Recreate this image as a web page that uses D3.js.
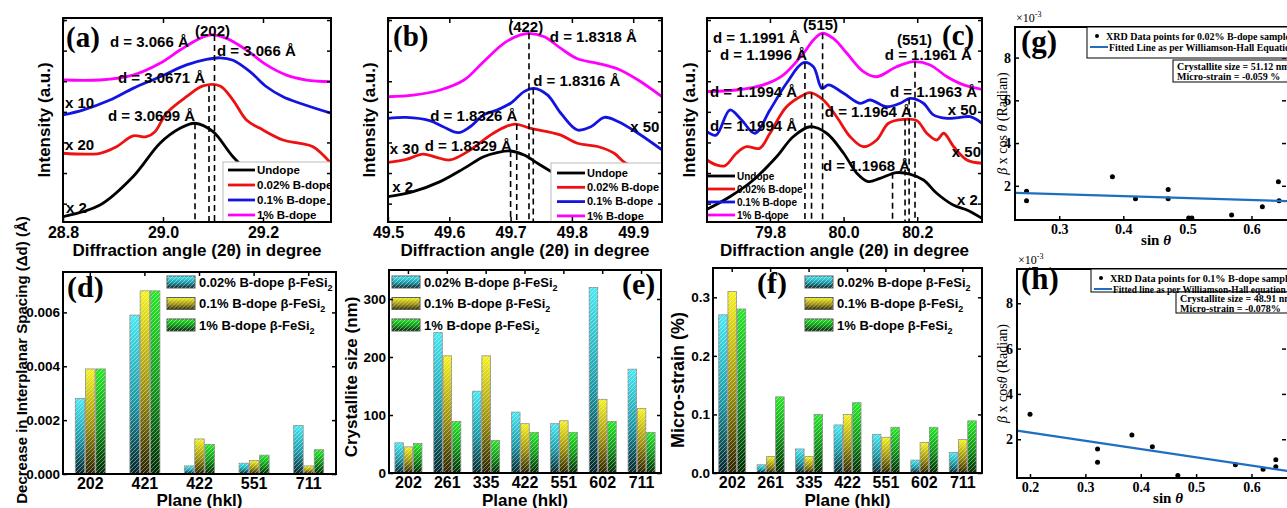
<!DOCTYPE html>
<html lang="en">
<head>
<meta charset="utf-8">
<script src="https://d3js.org/d3.v7.min.js"></script>
<style type="text/css">
  body { margin: 0; background: #fff; }
  svg { display: block; font-family: "Liberation Sans", Arial, sans-serif; font-weight: bold; }
  .serif { font-family: "Liberation Serif", "Times New Roman", serif; }
</style>
</head>
<body>
<script type="text/javascript">

  // ---------- XRD peaks, [2theta, intensity in a.u.] ----------
  var seriesNames = ["Undope", "0.02% B-dope", "0.1% B-dope", "1% B-dope"];
  var seriesColors = ["#000000", "#ee1111", "#1414e0", "#ff00ff"];

  // (a) (202) peak
  var aUndope = [[28.8,2.6],[28.874,8.3],[28.94,22.2],[28.994,38.6],[29.034,45.9],[29.064,48.4],[29.1,44.3],[29.14,32],[29.2,18],[29.26,9],[29.34,4]];
  var aB002 = [[28.8,33.7],[28.874,33.7],[28.907,36.9],[28.94,42.2],[28.967,41.8],[28.984,44.3],[29.007,53.3],[29.047,61.4],[29.08,66.7],[29.114,66.7],[29.14,59.8],[29.167,50],[29.2,45.1],[29.24,40.2],[29.274,38.5],[29.3,36.9],[29.336,28.8]];
  var aB01 = [[28.8,52.5],[28.841,55],[28.894,59.8],[28.94,65.5],[28.994,71.2],[29.047,77],[29.087,79.7],[29.114,80.5],[29.14,79.3],[29.174,73.7],[29.207,66.3],[29.24,61.4],[29.274,58.2],[29.336,53.3]];
  var aB1 = [[28.8,69.6],[28.874,69.6],[28.94,72],[28.994,77.8],[29.034,84.3],[29.074,90],[29.097,91.7],[29.127,90],[29.167,84.3],[29.207,77],[29.247,72],[29.287,69.6],[29.336,68.8]];
  var aTicks = [28.8, 29.0, 29.2];
  var aPeakX = [29.064, 29.092, 29.103];
  var aPeakTop = [48.4, 66.7, 91.7];
  var aNotes = [[28.894,85.8,"d = 3.066 Å"],[29.064,91.2,"(202)"],[29.108,81.4,"d = 3.066 Å"],
                [28.91,68.1,"d = 3.0671 Å"],[28.89,49.5,"d = 3.0699 Å"],[28.804,55.9,"x 10"],
                [28.804,35.3,"x 20"],[28.806,4.4,"x 2"]];

  // (b) (422) peak
  var bUndope = [[49.5,12.4],[49.541,14.9],[49.585,19.8],[49.624,26.3],[49.656,32],[49.678,34],[49.7,34.8],[49.722,32.8],[49.744,28.8],[49.766,24.8],[49.798,20],[49.85,15],[49.947,10]];
  var bB002 = [[49.5,29.2],[49.53,30.7],[49.557,33.3],[49.579,31.7],[49.601,30.4],[49.634,35.3],[49.667,42.6],[49.694,47],[49.708,48],[49.733,45.9],[49.755,44.6],[49.782,42.6],[49.809,38.6],[49.842,37],[49.869,33.7],[49.888,28.8],[49.947,24]];
  var bB01 = [[49.5,50.8],[49.53,51.3],[49.568,49.7],[49.59,46.7],[49.615,43.8],[49.634,46.7],[49.656,52.5],[49.678,54.9],[49.7,58.2],[49.722,63.9],[49.738,65.5],[49.76,62.3],[49.782,53.3],[49.809,45.1],[49.831,46.7],[49.853,51.3],[49.875,49.3],[49.908,43.5],[49.947,35.3]];
  var bB1 = [[49.5,61.4],[49.541,62.2],[49.585,64.7],[49.624,69.6],[49.656,78.6],[49.689,87.6],[49.716,91.7],[49.73,92.5],[49.755,90.8],[49.782,85.1],[49.809,80],[49.842,77.8],[49.875,75],[49.908,69.6],[49.947,61.4]];
  var bTicks = [49.5, 49.6, 49.7, 49.8, 49.9];
  var bPeakX = [49.7, 49.71, 49.73, 49.737];
  var bPeakTop = [34.8, 48, 92.5, 65.5];
  var bNotes = [[49.696,93.1,"(422)"],[49.764,88.2,"d = 1.8318 Å"],[49.737,66.7,"d = 1.8316 Å"],
                [49.569,49.5,"d = 1.8326 Å"],[49.895,44.1,"x 50"],[49.503,33.3,"x 30"],
                [49.56,34.8,"d = 1.8329 Å"],[49.507,14.7,"x 2"]];

  // (c) (515) and (551) peaks
  var cUndope = [[79.629,6.2],[79.691,12.4],[79.755,20.6],[79.818,32],[79.863,41.8],[79.909,46.7],[79.954,43.5],[80.0,33.7],[80.036,23.9],[80.067,19.8],[80.099,21.4],[80.144,24.2],[80.18,23.5],[80.217,20.6],[80.253,14.1],[80.298,8.3],[80.335,5.9],[80.376,1.8]];
  var cB002 = [[79.629,30.4],[79.654,28],[79.677,27.5],[79.709,33.7],[79.736,36.9],[79.772,36.1],[79.8,43.5],[79.845,56.5],[79.891,62.3],[79.909,63.4],[79.945,59.8],[79.981,51.6],[80.018,41.8],[80.054,36.9],[80.09,40.2],[80.122,48.4],[80.163,50.3],[80.199,49.7],[80.226,43.5],[80.253,40.2],[80.272,43.5],[80.299,36.9],[80.335,30.4],[80.376,28.8]];
  var cB01 = [[79.629,44.3],[79.654,42.6],[79.691,54.9],[79.723,50],[79.759,43.5],[79.8,54.9],[79.845,68],[79.891,78.1],[79.918,76.1],[79.941,65.5],[79.959,67.2],[80.0,63.1],[80.045,58.2],[80.072,59.8],[80.117,56.5],[80.154,58.2],[80.181,60.6],[80.217,58.2],[80.244,52.5],[80.281,50.8],[80.317,51.3],[80.344,51.6],[80.376,48.4]];
  var cB1 = [[79.629,63.9],[79.709,64.7],[79.782,67.2],[79.836,72],[79.891,82.7],[79.918,89.2],[79.941,92.5],[79.972,90],[80.009,82.7],[80.054,73.7],[80.09,71.2],[80.144,76.1],[80.19,78.6],[80.235,77],[80.281,71.2],[80.326,67.2],[80.376,65]];
  var cTicks = [79.8, 80.0, 80.2];
  var cPeakX = [79.895, 79.913, 79.943, 80.133, 80.167, 80.178, 80.194];
  var cPeakTop = [78, 63.4, 92.5, 24.2, 50.3, 60.6, 78.6];
  var cNotes = [[79.89,94.1,"(515)"],[80.145,86.8,"(551)"],[79.645,87.7,"d = 1.1991 Å"],
                [79.664,79.4,"d = 1.1996 Å"],[80.112,79.4,"d = 1.1961 Å"],[79.637,61.3,"d = 1.1994 Å"],
                [80.126,61.3,"d = 1.1963 Å"],[80.283,52.5,"x 50"],[79.949,51.5,"d = 1.1964 Å"],
                [79.637,44.6,"d = 1.1994 Å"],[80.294,31.9,"x 50"],[79.944,25,"d = 1.1968 Å"],
                [80.308,8.3,"x 2"]];

  var intensityTicks = [9, 24, 39, 54, 69, 84, 99];

  // ---------- bar charts ----------
  var barNames = ["0.02% B-dope β-FeSi", "0.1% B-dope β-FeSi", "1% B-dope β-FeSi"];

  var dPlanes = ["202", "421", "422", "551", "711"];
  var dB002 = [0.0028, 0.0059, 0.0003, 0.0004, 0.0018];
  var dB01 = [0.0039, 0.0068, 0.0013, 0.0005, 0.0003];
  var dB1 = [0.0039, 0.0068, 0.0011, 0.0007, 0.0009];
  var dTicks = [0, 0.002, 0.004, 0.006];

  var ePlanes = ["202", "261", "335", "422", "551", "602", "711"];
  var eB002 = [52, 242, 141, 105, 85, 320, 179];
  var eB01 = [45, 202, 202, 85, 90, 127, 111];
  var eB1 = [51, 89, 56, 70, 70, 89, 70];
  var eTicks = [0, 100, 200, 300];

  var fPlanes = ["202", "261", "335", "422", "551", "602", "711"];
  var fB002 = [0.27, 0.014, 0.041, 0.082, 0.066, 0.022, 0.035];
  var fB01 = [0.31, 0.028, 0.028, 0.10, 0.061, 0.052, 0.057];
  var fB1 = [0.28, 0.13, 0.10, 0.12, 0.078, 0.078, 0.089];
  var fTicks = [0, 0.1, 0.2, 0.3];

  // ---------- Williamson-Hall plots ----------
  var gSin = [0.249, 0.249, 0.383, 0.419, 0.47, 0.47, 0.502, 0.507, 0.569, 0.617, 0.642, 0.643];
  var gBeta = [1.75, 1.3, 2.42, 1.39, 1.83, 1.39, 0.49, 0.49, 0.63, 1.02, 2.19, 1.3];
  var gFitSin = [0.231, 0.657];
  var gFitBeta = [1.67, 1.28];
  var gXTicks = [0.3, 0.4, 0.5, 0.6];

  var hSin = [0.2, 0.322, 0.322, 0.384, 0.421, 0.467, 0.571, 0.621, 0.644, 0.644];
  var hBeta = [3.1, 1.57, 0.98, 2.19, 1.67, 0.4, 0.87, 0.68, 1.09, 0.79];
  var hFitSin = [0.1765, 0.666];
  var hFitBeta = [2.38, 0.6];
  var hXTicks = [0.2, 0.3, 0.4, 0.5, 0.6];
  var whYTicks = [2, 4, 6, 8];

  // ---------------------------------------------------------
  var width = 1287;
  var height = 508;

  var svg = d3.select("body").append("svg")
    .attr("width", width)
    .attr("height", height);

  var defs = svg.append("defs");

  function box(g, l, t, r, b) {
    g.append("rect")
      .attr("x", l).attr("y", t)
      .attr("width", r - l).attr("height", b - t)
      .attr("fill", "none")
      .attr("stroke", "#000")
      .attr("stroke-width", 2);
  }

  function styleAxis(ax, size, family) {
    ax.select(".domain").remove();
    ax.selectAll("line").attr("stroke", "#000").attr("stroke-width", 1.5);
    ax.selectAll("text")
      .attr("fill", "#000")
      .style("font-size", size + "px")
      .style("font-weight", "bold")
      .style("font-family", family || "'Liberation Sans', Arial, sans-serif");
  }

  // ---------- XRD panels ----------
  function linePanel(p) {
    var x = d3.scaleLinear().domain(p.xDomain).range([p.left, p.right]);
    var y = d3.scaleLinear().domain([0, 100]).range([p.bottom, p.top]);
    var g = svg.append("g");

    defs.append("clipPath").attr("id", "clip-" + p.name)
      .append("rect")
      .attr("x", p.left).attr("y", p.top)
      .attr("width", p.right - p.left).attr("height", p.bottom - p.top);

    var inner = g.append("g").attr("clip-path", "url(#clip-" + p.name + ")");

    var line = d3.line()
      .x(function(d) { return x(d[0]); })
      .y(function(d) { return y(d[1]); })
      .curve(d3.curveCatmullRom.alpha(0.5));

    p.series.forEach(function(s, i) {
      inner.append("path")
        .datum(s)
        .attr("d", line)
        .attr("fill", "none")
        .attr("stroke", seriesColors[i])
        .attr("stroke-width", 2.8);
    });

    // legend
    var L = p.legend;
    if (L.boxed) {
      inner.append("rect")
        .attr("x", L.x).attr("y", L.y)
        .attr("width", L.w).attr("height", L.h)
        .attr("fill", "#fff")
        .attr("stroke", "#bbb")
        .attr("stroke-width", 1);
    }
    var leg = inner.selectAll("g.leg")
      .data(seriesNames)
      .enter()
      .append("g")
      .attr("transform", function(d, i) { return "translate(" + L.lx + "," + (L.ly + i * L.step) + ")"; });
    leg.append("line")
      .attr("x1", 0).attr("x2", L.len)
      .attr("stroke", function(d, i) { return seriesColors[i]; })
      .attr("stroke-width", 2.8);
    leg.append("text")
      .attr("x", L.len + 2)
      .attr("dy", "0.35em")
      .style("font-size", L.font + "px")
      .text(function(d) { return d; });

    // dashed peak positions
    inner.selectAll("line.peak")
      .data(p.peakX)
      .enter()
      .append("line")
      .attr("x1", function(d) { return x(d); })
      .attr("x2", function(d) { return x(d); })
      .attr("y1", function(d, i) { return y(p.peakTop[i]); })
      .attr("y2", p.bottom)
      .attr("stroke", "#000")
      .attr("stroke-width", 1.6)
      .attr("stroke-dasharray", "6,4");

    // annotations
    g.selectAll("text.note")
      .data(p.notes)
      .enter()
      .append("text")
      .attr("x", function(d) { return x(d[0]); })
      .attr("y", function(d) { return y(d[1]); })
      .style("font-size", "15px")
      .text(function(d) { return d[2]; });

    g.append("text")
      .attr("class", "serif")
      .attr("x", p.tagX).attr("y", p.tagY)
      .style("font-size", "29px")
      .text(p.tag);

    // axes
    var ax = g.append("g")
      .attr("transform", "translate(0," + p.bottom + ")")
      .call(d3.axisBottom(x).tickValues(p.ticks).tickFormat(d3.format(".1f")).tickSize(-5).tickPadding(5));
    styleAxis(ax, 16);
    var axTop = g.append("g")
      .attr("transform", "translate(0," + p.top + ")")
      .call(d3.axisTop(x).tickValues(p.ticks).tickFormat("").tickSize(-5));
    styleAxis(axTop, 16);
    var axL = g.append("g")
      .attr("transform", "translate(" + p.left + ",0)")
      .call(d3.axisLeft(y).tickValues(intensityTicks).tickFormat("").tickSize(-4));
    styleAxis(axL, 12);
    var axR = g.append("g")
      .attr("transform", "translate(" + p.right + ",0)")
      .call(d3.axisRight(y).tickValues(intensityTicks).tickFormat("").tickSize(-4));
    styleAxis(axR, 12);

    box(g, p.left, p.top, p.right, p.bottom);

    g.append("text")
      .attr("transform", "translate(" + p.ylabX + "," + ((p.top + p.bottom) / 2) + ") rotate(-90)")
      .attr("text-anchor", "middle")
      .style("font-size", "17px")
      .text("Intensity (a.u.)");

    g.append("text")
      .attr("x", (p.left + p.right) / 2)
      .attr("y", 256)
      .attr("text-anchor", "middle")
      .style("font-size", "17px")
      .text("Diffraction angle (2θ) in degree");
  }

  linePanel({
    name: "a", left: 63, right: 331, top: 18, bottom: 222,
    xDomain: [28.8, 29.336], series: [aUndope, aB002, aB01, aB1],
    ticks: aTicks, peakX: aPeakX, peakTop: aPeakTop, notes: aNotes,
    tag: "(a)", tagX: 66, tagY: 47, ylabX: 50,
    legend: { boxed: true, x: 223, y: 162, w: 130, h: 62, lx: 228, ly: 170, step: 15, len: 27, font: 11.5 }
  });
  linePanel({
    name: "b", left: 388, right: 662, top: 18, bottom: 222,
    xDomain: [49.5, 49.947], series: [bUndope, bB002, bB01, bB1],
    ticks: bTicks, peakX: bPeakX, peakTop: bPeakTop, notes: bNotes,
    tag: "(b)", tagX: 393, tagY: 46, ylabX: 375,
    legend: { boxed: true, x: 551, y: 163, w: 115, h: 62, lx: 557, ly: 173, step: 14.3, len: 28, font: 11 }
  });
  linePanel({
    name: "c", left: 707, right: 982, top: 18, bottom: 222,
    xDomain: [79.629, 80.376], series: [cUndope, cB002, cB01, cB1],
    ticks: cTicks, peakX: cPeakX, peakTop: cPeakTop, notes: cNotes,
    tag: "(c)", tagX: 942, tagY: 45, ylabX: 695,
    legend: { boxed: false, lx: 708, ly: 176, step: 13, len: 27, font: 10 }
  });

  // ---------- bar gradients + hatch ----------
  var barStops = [
    ["#46eaf4", "#1d98a6", "#05262b"],
    ["#f6f21c", "#9c9010", "#2a2300"],
    ["#26ea26", "#12921a", "#012a04"]
  ];
  barStops.forEach(function(st, i) {
    var lg = defs.append("linearGradient")
      .attr("id", "bar" + i)
      .attr("x1", 0).attr("y1", 0).attr("x2", 0).attr("y2", 1);
    lg.append("stop").attr("offset", "0%").attr("stop-color", st[0]);
    lg.append("stop").attr("offset", "55%").attr("stop-color", st[1]);
    lg.append("stop").attr("offset", "100%").attr("stop-color", st[2]);
  });
  var hatch = defs.append("pattern")
    .attr("id", "hatch")
    .attr("patternUnits", "userSpaceOnUse")
    .attr("width", 4).attr("height", 4);
  hatch.append("path")
    .attr("d", "M-1,1 l2,-2 M0,4 l4,-4 M3,5 l2,-2")
    .attr("stroke", "rgba(255,255,255,0.42)")
    .attr("stroke-width", 1);

  function barPanel(p) {
    var x = d3.scaleBand().domain(p.planes).range([p.left, p.right]).padding(0);
    var y = d3.scaleLinear().domain(p.yDomain).range([p.bottom, p.top]);
    var sub = d3.scaleBand().domain([0, 1, 2]).range([-p.group / 2, p.group / 2]).paddingInner(0.08);
    var g = svg.append("g");

    p.series.forEach(function(vals, si) {
      var bars = g.selectAll("g.s" + si)
        .data(vals)
        .enter()
        .append("g");
      [("url(#bar" + si + ")"), "url(#hatch)"].forEach(function(fill, k) {
        bars.append("rect")
          .attr("x", function(d, i) { return x(p.planes[i]) + x.bandwidth() / 2 + sub(si); })
          .attr("y", function(d) { return y(d); })
          .attr("width", sub.bandwidth())
          .attr("height", function(d) { return y(0) - y(d); })
          .attr("fill", fill)
          .attr("stroke", k === 0 ? "#8a8a8a" : "none")
          .attr("stroke-width", 0.8);
      });
    });

    // legend
    var leg = g.selectAll("g.leg")
      .data(barNames)
      .enter()
      .append("g")
      .attr("transform", function(d, i) { return "translate(" + p.legX + "," + (p.legY + i * 21.5) + ")"; });
    ["bar", "hatch"].forEach(function(kind) {
      leg.append("rect")
        .attr("x", 0).attr("y", -6)
        .attr("width", 28).attr("height", 12)
        .attr("fill", function(d, i) { return kind === "bar" ? "url(#bar" + i + ")" : "url(#hatch)"; })
        .attr("stroke", kind === "bar" ? "#555" : "none")
        .attr("stroke-width", 1);
    });
    var lt = leg.append("text")
      .attr("x", 32)
      .attr("dy", "0.35em")
      .style("font-size", "13px");
    lt.append("tspan").text(function(d) { return d; });
    lt.append("tspan").attr("dy", 4).style("font-size", "9px").text("2");

    g.append("text")
      .attr("class", "serif")
      .attr("x", p.tagX).attr("y", p.tagY)
      .style("font-size", "30px")
      .text(p.tag);

    var ax = g.append("g")
      .attr("transform", "translate(0," + p.bottom + ")")
      .call(d3.axisBottom(x).tickSize(0).tickPadding(4));
    styleAxis(ax, 16);
    var axTop = g.append("g")
      .attr("transform", "translate(0," + p.top + ")")
      .call(d3.axisTop(x).tickFormat("").tickSize(-4));
    styleAxis(axTop, 16);
    var axL = g.append("g")
      .attr("transform", "translate(" + p.left + ",0)")
      .call(d3.axisLeft(y).tickValues(p.ticks).tickFormat(d3.format(p.fmt)).tickSize(-4).tickPadding(2));
    styleAxis(axL, 13.5);
    axL.selectAll("text").attr("x", -3);
    var axR = g.append("g")
      .attr("transform", "translate(" + p.right + ",0)")
      .call(d3.axisRight(y).tickValues(p.ticks).tickFormat("").tickSize(-4));
    styleAxis(axR, 13);

    box(g, p.left, p.top, p.right, p.bottom);

    g.append("text")
      .attr("transform", "translate(" + p.ylabX + "," + p.ylabY + ") rotate(-90)")
      .attr("text-anchor", "middle")
      .style("font-size", p.ylabSize + "px")
      .text(p.ylab);

    g.append("text")
      .attr("x", (p.left + p.right) / 2)
      .attr("y", 506)
      .attr("text-anchor", "middle")
      .style("font-size", "17px")
      .text("Plane (hkl)");
  }

  barPanel({
    planes: dPlanes, series: [dB002, dB01, dB1], yDomain: [0, 0.0075], ticks: dTicks, fmt: ".3f",
    left: 63, right: 336, top: 272, bottom: 474, group: 30,
    legX: 167, legY: 282, tag: "(d)", tagX: 67, tagY: 297,
    ylab: "Decrease in Interplanar Spacing (Δd) (Å)", ylabX: 27, ylabY: 360, ylabSize: 15
  });
  barPanel({
    planes: ePlanes, series: [eB002, eB01, eB1], yDomain: [0, 350], ticks: eTicks, fmt: "d",
    left: 389, right: 661, top: 270, bottom: 473, group: 27,
    legX: 392, legY: 282, tag: "(e)", tagX: 622, tagY: 294,
    ylab: "Crystallite size (nm)", ylabX: 357, ylabY: 377, ylabSize: 17
  });
  barPanel({
    planes: fPlanes, series: [fB002, fB01, fB1], yDomain: [0, 0.35], ticks: fTicks, fmt: ".1f",
    left: 713, right: 982, top: 268, bottom: 473, group: 27,
    legX: 805, legY: 282, tag: "(f)", tagX: 757, tagY: 293,
    ylab: "Micro-strain (%)", ylabX: 684, ylabY: 380, ylabSize: 18
  });

  // ---------- Williamson-Hall panels ----------
  function whPanel(p) {
    var x = d3.scaleLinear().domain(p.xDomain).range([p.left, p.right]);
    var y = d3.scaleLinear().domain(p.yDomain).range([p.bottom, p.top]);
    var g = svg.append("g").attr("class", "serif");

    g.selectAll("circle")
      .data(p.sin)
      .enter()
      .append("circle")
      .attr("cx", function(d) { return x(d); })
      .attr("cy", function(d, i) { return y(p.beta[i]); })
      .attr("r", 2.5)
      .attr("fill", "#000");

    g.append("path")
      .datum(p.fitSin)
      .attr("d", d3.line()
        .x(function(d) { return x(d); })
        .y(function(d, i) { return y(p.fitBeta[i]); }))
      .attr("stroke", "#1f6fc0")
      .attr("stroke-width", 2.2)
      .attr("fill", "none");

    var ax = g.append("g")
      .attr("transform", "translate(0," + p.bottom + ")")
      .call(d3.axisBottom(x).tickValues(p.xTicks).tickFormat(d3.format(".1f")).tickSize(-4).tickPadding(4));
    styleAxis(ax, 14, "'Liberation Serif', serif");
    var axL = g.append("g")
      .attr("transform", "translate(" + p.left + ",0)")
      .call(d3.axisLeft(y).tickValues(whYTicks).tickFormat(d3.format("d")).tickSize(-4).tickPadding(2));
    styleAxis(axL, 14, "'Liberation Serif', serif");
    axL.selectAll("text").attr("x", -4);
    var axR = g.append("g")
      .attr("transform", "translate(" + (p.right - 2) + ",0)")
      .call(d3.axisRight(y).tickValues(whYTicks).tickFormat("").tickSize(-4));
    styleAxis(axR, 13);

    box(g, p.left, p.top, p.right, p.bottom);

    // legend boxes
    g.append("rect")
      .attr("x", p.leg1[0]).attr("y", p.leg1[1])
      .attr("width", p.right - p.leg1[0]).attr("height", p.leg1[2])
      .attr("fill", "#fff").attr("stroke", "#000").attr("stroke-width", 1);
    g.append("rect")
      .attr("x", p.leg2[0]).attr("y", p.leg2[1])
      .attr("width", p.right - p.leg2[0]).attr("height", p.leg2[2])
      .attr("fill", "#fff").attr("stroke", "#000").attr("stroke-width", 1);

    g.append("circle")
      .attr("cx", p.leg1[0] + 10).attr("cy", p.leg1[1] + 9)
      .attr("r", 2).attr("fill", "#000");
    g.append("text")
      .attr("x", p.leg1[0] + 19).attr("y", p.leg1[1] + 12.5)
      .style("font-size", p.legFont[0] + "px")
      .text(p.legText[0]);
    g.append("line")
      .attr("x1", p.leg1[0] + 3).attr("x2", p.leg1[0] + 21)
      .attr("y1", p.leg1[1] + 20).attr("y2", p.leg1[1] + 20)
      .attr("stroke", "#1f6fc0").attr("stroke-width", 2);
    g.append("text")
      .attr("x", p.leg1[0] + 22).attr("y", p.leg1[1] + 23.5)
      .style("font-size", p.legFont[1] + "px")
      .text(p.legText[1]);
    g.append("text")
      .attr("x", p.leg2[0] + 4).attr("y", p.leg2[1] + 10)
      .style("font-size", "10px")
      .text(p.legText[2]);
    g.append("text")
      .attr("x", p.leg2[0] + 4).attr("y", p.leg2[1] + 20)
      .style("font-size", "10px")
      .text(p.legText[3]);

    g.append("text")
      .attr("x", p.tagX).attr("y", p.tagY)
      .style("font-size", "31px")
      .text(p.tag);

    var ex = g.append("text")
      .attr("x", p.left + 1).attr("y", p.top - 5)
      .style("font-size", "12px")
      .style("font-weight", "normal");
    ex.append("tspan").text("×10");
    ex.append("tspan").attr("dy", -5).style("font-size", "8px").text("-3");

    var xl = g.append("text")
      .attr("x", p.sinX).attr("y", p.sinY)
      .attr("text-anchor", "middle")
      .style("font-size", "15px");
    xl.append("tspan").text("sin ");
    xl.append("tspan").style("font-style", "italic").text("θ");

    var yl = g.append("text")
      .attr("transform", "translate(1007," + ((p.top + p.bottom) / 2) + ") rotate(-90)")
      .attr("text-anchor", "middle")
      .style("font-size", "14px")
      .style("font-weight", "normal");
    yl.append("tspan").style("font-style", "italic").text("β");
    yl.append("tspan").text(p.cosText);
    yl.append("tspan").style("font-style", "italic").text("θ");
    yl.append("tspan").text(" (Radian)");
  }

  whPanel({
    left: 1015, right: 1288, top: 27, bottom: 220,
    xDomain: [0.231, 0.657], yDomain: [0.4, 9.43],
    sin: gSin, beta: gBeta, fitSin: gFitSin, fitBeta: gFitBeta, xTicks: gXTicks,
    leg1: [1087, 27, 31], leg2: [1173, 60, 22], legFont: [10, 9.8],
    legText: ["XRD Data points for 0.02% B-dope sample", "Fitted Line as per Williamson-Hall Equation",
              "Crystallite size = 51.12 nm", "Micro-strain = -0.059 %"],
    tag: "(g)", tagX: 1021, tagY: 52, sinX: 1156, sinY: 245, cosText: " x cos "
  });
  whPanel({
    left: 1017, right: 1288, top: 269, bottom: 478,
    xDomain: [0.1765, 0.666], yDomain: [0.29, 9.51],
    sin: hSin, beta: hBeta, fitSin: hFitSin, fitBeta: hFitBeta, xTicks: hXTicks,
    leg1: [1091, 269, 23], leg2: [1176, 292, 21], legFont: [10.2, 9.4],
    legText: ["XRD Data points for 0.1% B-dope sample", "Fitted line as per Williamson-Hall equation",
              "Crystallite size = 48.91 nm", "Micro-strain = -0.078%"],
    tag: "(h)", tagX: 1021, tagY: 289, sinX: 1168, sinY: 503, cosText: " x cos"
  });

</script>
</body>
</html>
